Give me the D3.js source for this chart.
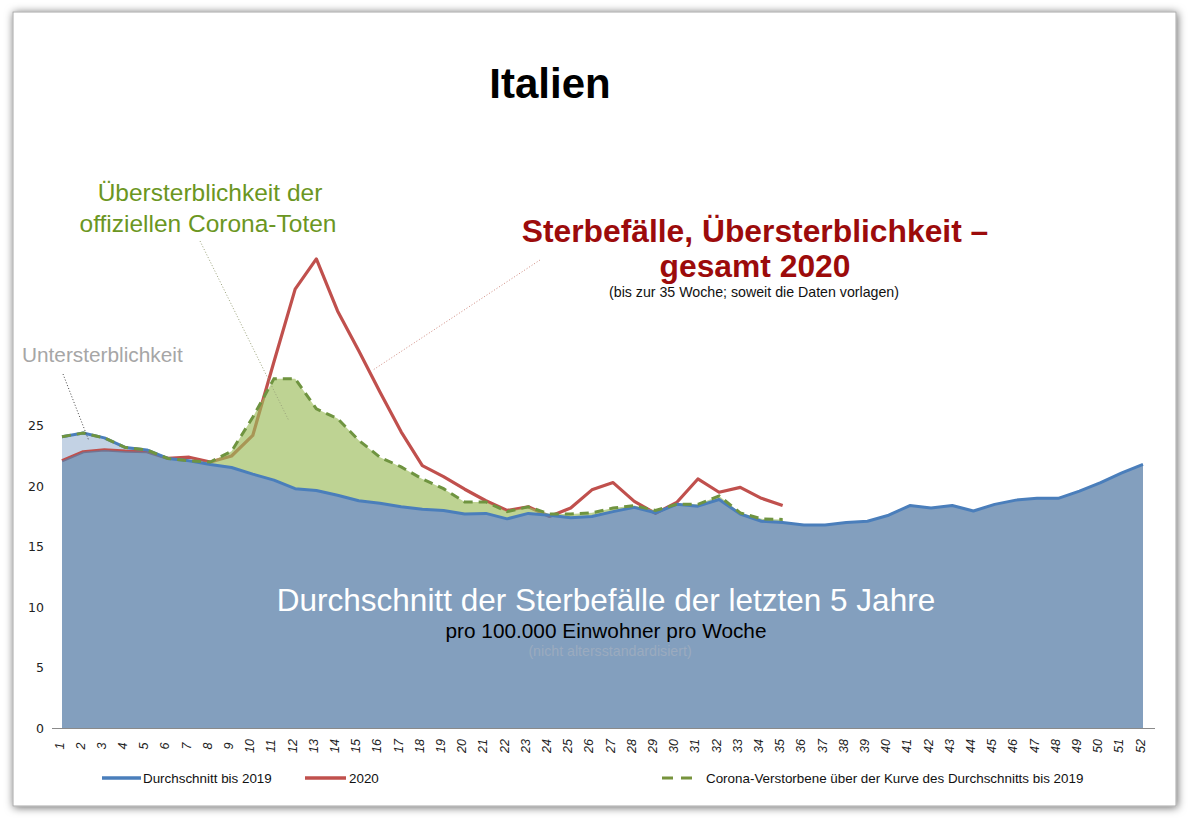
<!DOCTYPE html>
<html>
<head>
<meta charset="utf-8">
<script src="https://cdn.jsdelivr.net/npm/d3@7"></script>
<style>
  body { margin: 0; background: #fff; }
  svg { display: block; font-family: "Liberation Sans", Arial, sans-serif; }
</style>
</head>
<body>
<svg id="chart" width="1190" height="822"></svg>
<script>
// weeks and values (per 100.000 inhabitants per week)
var weeks = d3.range(1, 53);
var avg = [24.1,24.4,24.0,23.2,23.0,22.3,22.1,21.8,21.55,21.0,20.5,19.8,19.65,19.25,18.8,18.6,18.3,18.1,18.0,17.7,
  17.75,17.3,17.75,17.6,17.4,17.5,17.9,18.25,17.8,18.5,18.35,18.9,17.7,17.1,17.0,16.8,16.8,17.0,17.1,17.6,
  18.4,18.2,18.4,17.95,18.5,18.85,19.0,19.0,19.6,20.3,21.1,21.8];
var y2020 = [22.1,22.85,23.0,22.9,22.85,22.3,22.4,22.0,22.5,24.2,30.3,36.3,38.8,34.5,31.2,27.8,24.5,21.7,20.8,19.75,
  18.8,18.0,18.3,17.5,18.2,19.7,20.3,18.75,17.75,18.65,20.6,19.5,19.9,19.0,18.4];
var corona = [24.1,24.4,24.0,23.2,23.0,22.3,22.1,22.0,22.9,25.7,28.9,28.9,26.4,25.6,23.8,22.4,21.6,20.6,19.8,18.7,
  18.7,17.9,18.3,17.7,17.7,17.8,18.2,18.4,18.0,18.5,18.5,19.2,17.8,17.3,17.25];
var yTicks = [0, 5, 10, 15, 20, 25];

var svg = d3.select("#chart");

// frame with shadow
var defs = svg.append("defs");
var f = defs.append("filter").attr("id", "shadow").attr("x", "-5%").attr("y", "-5%").attr("width", "110%").attr("height", "110%");
f.append("feDropShadow").attr("dx", 1).attr("dy", 1).attr("stdDeviation", 4.5).attr("flood-color", "#000").attr("flood-opacity", 0.6);

svg.append("rect")
  .attr("x", 13).attr("y", 12).attr("width", 1163).attr("height", 794)
  .attr("fill", "#fff").attr("stroke", "#a8a8a8").attr("filter", "url(#shadow)");

var x = d3.scaleLinear().domain([1, 52]).range([62, 1143]);
var y = d3.scaleLinear().domain([0, 45]).range([728, 184]);

// rows for the first 35 weeks (2020 data)
var rows = y2020.map(function(v, i) {
  return { w: weeks[i], avg: avg[i], r: v, c: corona[i] };
});
var all = weeks.map(function(w, i) {
  var r = i < y2020.length ? y2020[i] : null;
  return { w: w, avg: avg[i], low: r === null ? avg[i] : Math.min(avg[i], r) };
});

// Untersterblichkeit (light blue between 2020 and average)
svg.append("path")
  .datum(all)
  .attr("fill", "#c3d2e4")
  .attr("d", d3.area().x(function(d){ return x(d.w); }).y0(function(d){ return y(d.low); }).y1(function(d){ return y(d.avg); }));

// 2020 line
svg.append("path")
  .datum(rows)
  .attr("fill", "none").attr("stroke", "#c0504d").attr("stroke-width", 3.2).attr("stroke-linejoin", "round")
  .attr("d", d3.line().x(function(d){ return x(d.w); }).y(function(d){ return y(d.r); }));

// green area: corona deaths above average
svg.append("path")
  .datum(rows)
  .attr("fill", "#9bbb59").attr("fill-opacity", 0.65)
  .attr("d", d3.area().x(function(d){ return x(d.w); }).y0(function(d){ return y(d.avg); }).y1(function(d){ return y(Math.max(d.c, d.avg)); }));

// main blue area
svg.append("path")
  .datum(all)
  .attr("fill", "#5a7fa8").attr("fill-opacity", 0.75)
  .attr("d", d3.area().x(function(d){ return x(d.w); }).y0(y(0)).y1(function(d){ return y(d.low); }));

// average line
svg.append("path")
  .datum(all)
  .attr("fill", "none").attr("stroke", "#4a7ebb").attr("stroke-width", 3).attr("stroke-linejoin", "round")
  .attr("d", d3.line().x(function(d){ return x(d.w); }).y(function(d){ return y(d.avg); }));

// corona dashed line
svg.append("path")
  .datum(rows)
  .attr("fill", "none").attr("stroke", "#6f9440").attr("stroke-width", 3).attr("stroke-dasharray", "9,6")
  .attr("d", d3.line().x(function(d){ return x(d.w); }).y(function(d){ return y(d.c); }));

// axes
var yAxis = svg.append("g")
  .attr("transform", "translate(44,0)")
  .call(d3.axisLeft(y).tickValues(yTicks).tickSize(0).tickPadding(0));
yAxis.select(".domain").remove();
yAxis.selectAll("text").attr("fill", "#222").attr("font-family", "'DejaVu Sans', sans-serif").attr("font-size", 12.5);

svg.append("line")
  .attr("x1", 52).attr("x2", 1155).attr("y1", y(0) + 0.5).attr("y2", y(0) + 0.5)
  .attr("stroke", "#8a8a8a").attr("stroke-width", 1);

var xAxis = svg.append("g")
  .attr("transform", "translate(0," + y(0) + ")")
  .call(d3.axisBottom(x).tickValues(weeks).tickFormat(d3.format("d")).tickSize(0));
xAxis.select(".domain").remove();
xAxis.selectAll("text")
  .attr("font-size", 12.5).attr("fill", "#222").attr("font-style", "italic")
  .attr("text-anchor", "middle").attr("dy", 0)
  .attr("transform", function() { return "translate(-3,18) rotate(-90)"; })
  .attr("dominant-baseline", "central")
  .attr("y", 0);

// title
svg.append("text").attr("x", 550).attr("y", 98).attr("text-anchor", "middle")
  .attr("font-weight", "bold").attr("font-size", 42).attr("fill", "#000").text("Italien");

// annotations
var green = svg.append("g").attr("fill", "#6b9622").attr("font-size", 24.5).attr("text-anchor", "middle");
green.append("text").attr("x", 210).attr("y", 201).text("Übersterblichkeit der");
green.append("text").attr("x", 208).attr("y", 232).text("offiziellen Corona-Toten");

svg.append("line").attr("x1", 200).attr("y1", 241).attr("x2", 289).attr("y2", 421)
  .attr("stroke", "#9aa27a").attr("stroke-width", 1).attr("stroke-dasharray", "1,2");

var red = svg.append("g").attr("fill", "#9c0b0b").attr("font-weight", "bold").attr("text-anchor", "middle");
red.append("text").attr("x", 755).attr("y", 242).attr("font-size", 31.8).text("Sterbefälle, Übersterblichkeit –");
red.append("text").attr("x", 755).attr("y", 277).attr("font-size", 31.8).text("gesamt 2020");
svg.append("text").attr("x", 754).attr("y", 297).attr("text-anchor", "middle").attr("font-size", 14.2)
  .attr("fill", "#111").text("(bis zur 35 Woche; soweit die Daten vorlagen)");

svg.append("line").attr("x1", 540).attr("y1", 260).attr("x2", 373).attr("y2", 370)
  .attr("stroke", "#d08a80").attr("stroke-width", 1).attr("stroke-dasharray", "1,2");

svg.append("text").attr("x", 22).attr("y", 362).attr("font-size", 20.8).attr("fill", "#a6a6a6").text("Untersterblichkeit");
svg.append("line").attr("x1", 63).attr("y1", 374).attr("x2", 89).attr("y2", 441)
  .attr("stroke", "#444").attr("stroke-width", 1).attr("stroke-dasharray", "1,2");

svg.append("text").attr("x", 606).attr("y", 611).attr("text-anchor", "middle").attr("font-size", 31.5)
  .attr("fill", "#fff").text("Durchschnitt der Sterbefälle der letzten 5 Jahre");
svg.append("text").attr("x", 606).attr("y", 638).attr("text-anchor", "middle").attr("font-size", 20.8)
  .attr("fill", "#000").text("pro 100.000 Einwohner pro Woche");
svg.append("text").attr("x", 610).attr("y", 656).attr("text-anchor", "middle").attr("font-size", 14.2)
  .attr("fill", "#9babbf").text("(nicht altersstandardisiert)");

// legend
var legend = svg.append("g").attr("font-size", 13.4).attr("fill", "#111");
legend.append("line").attr("x1", 102).attr("x2", 141).attr("y1", 778).attr("y2", 778).attr("stroke", "#4a7ebb").attr("stroke-width", 3.5);
legend.append("text").attr("x", 143).attr("y", 783).text("Durchschnitt bis 2019");
legend.append("line").attr("x1", 305).attr("x2", 346).attr("y1", 778).attr("y2", 778).attr("stroke", "#c0504d").attr("stroke-width", 3.5);
legend.append("text").attr("x", 349).attr("y", 783).text("2020");
legend.append("line").attr("x1", 662).attr("x2", 692).attr("y1", 778).attr("y2", 778).attr("stroke", "#77933c").attr("stroke-width", 3).attr("stroke-dasharray", "11,8");
legend.append("text").attr("x", 706).attr("y", 783).text("Corona-Verstorbene über der Kurve des Durchschnitts bis 2019");
</script>
</body>
</html>
